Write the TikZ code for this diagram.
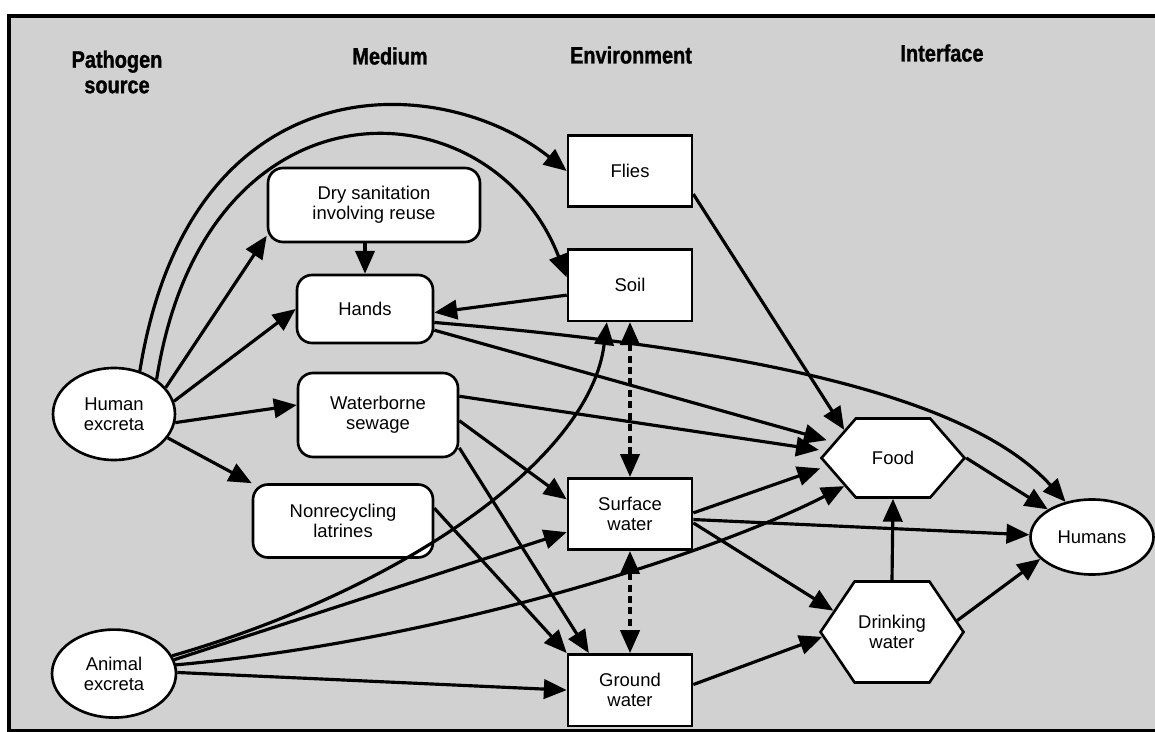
\documentclass[tikz,border=0pt]{standalone}
\usepackage{fontspec}
\setmainfont{Liberation Sans}
\newfontfamily\headfont{Liberation Sans}[FakeStretch=0.84,BoldFeatures={FakeBold=1.2}]
\usetikzlibrary{arrows.meta,positioning,shapes.geometric,shapes.symbols}

\begin{document}
\begin{tikzpicture}[x=0.02cm,y=-0.02cm,
  font=\fontsize{10.5}{11.5}\selectfont,
  head/.style={font=\headfont\bfseries\fontsize{13.5}{14.5}\selectfont,align=center},
  src node/.style={ellipse,draw,fill=white,line width=1.5pt,inner sep=0pt,align=center},
  med node/.style={rectangle,rounded corners=0.3cm,draw,fill=white,line width=1.5pt,inner sep=0pt,align=center},
  env node/.style={rectangle,draw,fill=white,line width=1.5pt,inner sep=0pt,align=center,
    minimum width=2.48cm,minimum height=1.43cm},
  face node/.style={signal,signal to=west and east,draw,fill=white,line width=1.5pt,inner sep=0pt,
    align=center,minimum width=2.86cm},
  link/.style={line width=1.8pt,-{Triangle[length=13pt,width=11pt]}},
  both/.style={line width=1.8pt,dash pattern=on 4pt off 2.5pt,
    {Triangle[length=13pt,width=11pt]}-{Triangle[length=13pt,width=11pt]}}]

  \useasboundingbox (0,0) rectangle (1155,732);
  \fill[black!18] (9,16) rectangle (1155,731);
  \draw[line width=1.8pt] (1155,16) -- (9,16) -- (9,731) -- (1155,731);

  % column heads
  \node[head] (hsrc) at (117,72) {Pathogen\\source};
  \node[head] (hmed) at (390,56) {Medium};
  \node[head] (henv) at (631,55) {Environment};
  \node[head] (hint) at (942,53) {Interface};

  % sources
  \node[src node,minimum width=2.44cm,minimum height=1.84cm] (human) at (114,414) {Human\\excreta};
  \node[src node,minimum width=2.48cm,minimum height=1.76cm,below=3.34cm of human] (animal) {Animal\\excreta};

  % media
  \node[med node,minimum width=4.24cm,minimum height=1.48cm] (dry) at (374,205) {Dry sanitation\\involving reuse};
  \node[med node,minimum width=2.72cm,minimum height=1.36cm] (hands) at (365,309) {Hands};
  \node[med node,minimum width=3.2cm,minimum height=1.68cm] (sewage) at (378,415) {Waterborne\\sewage};
  \node[med node,minimum width=3.6cm,minimum height=1.46cm] (latrines) at (343,521) {Nonrecycling\\latrines};

  % environment
  \node[env node] (flies) at (630,171) {Flies};
  \node[env node,below=0.8cm of flies] (soil) {Soil};
  \node[env node] (surface) at (630,514) {Surface\\water};
  \node[env node,below=2.04cm of surface] (ground) {Ground\\water};

  % interface
  \node[face node,minimum height=1.58cm,signal pointer angle=98] (food) at (893,458) {Food};
  \node[face node,minimum height=2.02cm,signal pointer angle=112] (drinking) at (892,632) {Drinking\\water};
  \node[src node,minimum width=2.46cm,minimum height=1.5cm] (humans) at (1092,537) {Humans};

  % curved links
  \draw[link] (human.59) .. controls (190,60) and (440,70) .. (flies.west);
  \draw[link] (human.39) .. controls (205,70) and (490,80) .. (soil.173);
  \draw[link] (animal.17) .. controls (400,590) and (590,460) .. (soil.238);
  \draw[link] (animal.8) .. controls (450,640) and (720,550) .. (food.210);
  \draw[link] (hands.-11) .. controls (700,345) and (960,385) .. (humans.127);

  % straight links
  \path[link]
    (human.27) edge (dry.196)
    (human.12) edge (hands.west)
    (human.-8) edge (sewage.173)
    (human.-24) edge (latrines.north west)
    (hands.north |- dry.south) edge (hands.north)
    (soil.189) edge (hands.-3)
    (hands.-17) edge[shorten >=4pt] (food.165)
    (sewage.13) edge[shorten >=4pt] (food.174)
    (sewage.-4) edge (surface.167)
    (sewage.-22) edge (ground.138)
    (latrines.8) edge (ground.north west)
    (animal.13) edge (surface.196)
    (animal.1) edge (ground.west)
    (flies.-20) edge (food.150)
    (surface.1) edge[shorten >=4pt] (food.187)
    (surface.-5) edge (humans.178)
    (surface.-8) edge (drinking.160)
    (ground.5) edge (drinking.184)
    (drinking.north) edge (food.south)
    (drinking.10) edge (humans.203)
    (food.east) edge (humans.148);

  \path[both]
    (soil.south) edge (surface.north)
    (surface.south) edge (ground.north);

\end{tikzpicture}
\end{document}
